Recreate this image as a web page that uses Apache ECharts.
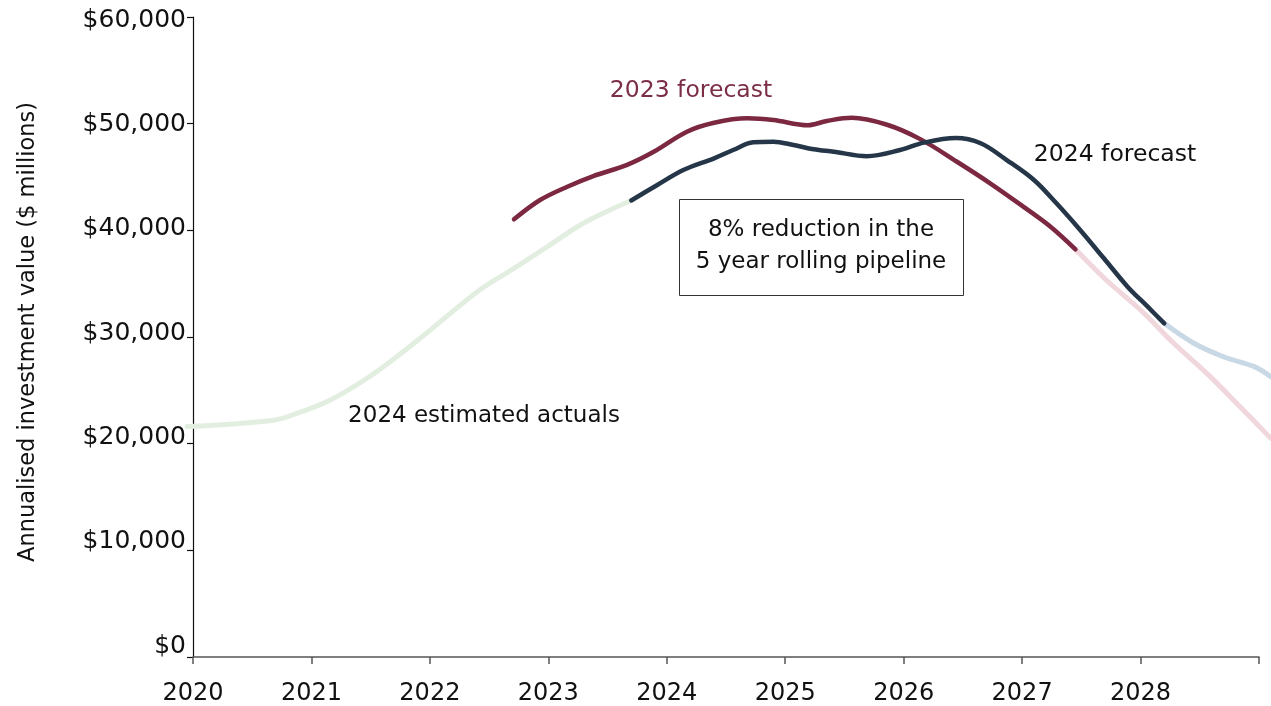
<!DOCTYPE html>
<html>
<head>
<meta charset="utf-8">
<style>
    html, body { margin: 0; padding: 0; background: #fff; }
    #chart { width: 1271px; height: 706px; }
</style>
<script src="https://cdn.jsdelivr.net/npm/echarts@6/dist/echarts.min.js"></script>
</head>
<body>
<div id="chart"></div>
<script>
// values ([year, $ millions])
const actualYears = [2019.95, 2020.68, 2020.88, 2021.16, 2021.47, 2021.72, 2021.97, 2022.42, 2022.71, 2022.99, 2023.27, 2023.49, 2023.70];
const actualValues = [21600, 22200, 22850, 24100, 26130, 28150, 30350, 34400, 36440, 38460, 40500, 41750, 42800];

const f2023Years = [2022.71, 2022.93, 2023.16, 2023.38, 2023.66, 2023.89, 2024.17, 2024.40, 2024.68, 2024.90, 2025.19, 2025.35, 2025.56, 2025.86, 2026.14, 2026.45, 2026.73, 2027.01, 2027.24, 2027.45];
const f2023Values = [41030, 42840, 44090, 45090, 46120, 47370, 49250, 50090, 50500, 50340, 49850, 50250, 50550, 49900, 48550, 46430, 44410, 42220, 40340, 38220];
const f2023TailYears = [2027.45, 2027.71, 2028.00, 2028.28, 2028.56, 2028.84, 2029.10];
const f2023TailValues = [38220, 35340, 32530, 29410, 26590, 23460, 20500];

const f2024Years = [2023.70, 2023.92, 2024.14, 2024.40, 2024.56, 2024.73, 2024.90, 2025.07, 2025.24, 2025.41, 2025.69, 2025.97, 2026.17, 2026.44, 2026.65, 2026.87, 2027.10, 2027.29, 2027.49, 2027.69, 2027.89, 2028.06, 2028.20];
const f2024Values = [42800, 44250, 45650, 46750, 47530, 48250, 48310, 48000, 47600, 47370, 46950, 47530, 48220, 48650, 48160, 46590, 44720, 42530, 40030, 37380, 34720, 32840, 31280];
const f2024TailYears = [2028.20, 2028.45, 2028.70, 2028.96, 2029.10];
const f2024TailValues = [31280, 29410, 28150, 27220, 26280];

const yTicks = [0, 10000, 20000, 30000, 40000, 50000, 60000];

function pairs(xs, ys) {
    return xs.map((x, i) => [x, ys[i]]);
}

const FONT = '"DejaVu Sans"';
const YEAR_PX = 118.44;  // one year on the x axis

(function () {
    let myChart = echarts.init(document.getElementById('chart'));

    // lines live on a second, hidden grid that runs a little past the axes
    function line(name, xs, ys, color, width, z) {
        return {
            name: name,
            type: 'line',
            xAxisIndex: 1,
            yAxisIndex: 2,
            data: pairs(xs, ys),
            smooth: 0.35,
            showSymbol: false,
            z: z,
            silent: true,
            lineStyle: { color: color, width: width, cap: 'round', join: 'round' }
        };
    }

    let option = {
        animation: false,
        grid: [
            { left: 193, right: 12, top: 17, bottom: 49 },
            { left: 193 - 0.1 * YEAR_PX, right: 12 - 0.1 * YEAR_PX, top: 17, bottom: 49 }
        ],
        xAxis: [
            {
                type: 'value',
                gridIndex: 0,
                min: 2020,
                max: 2029,
                interval: 1,
                axisLine: { lineStyle: { color: '#555', width: 1.5 } },
                axisTick: { length: 7, lineStyle: { color: '#555', width: 1.5 } },
                splitLine: { show: false },
                axisLabel: {
                    color: '#111',
                    fontFamily: FONT,
                    fontSize: 24,
                    margin: 25,
                    formatter: v => v === 2029 ? '' : String(v)
                }
            },
            {
                type: 'value',
                gridIndex: 1,
                min: 2019.9,
                max: 2029.1,
                show: false
            }
        ],
        yAxis: [
            {
                type: 'value',
                gridIndex: 0,
                min: 0,
                max: 60000,
                interval: 10000,
                axisLine: { show: true, lineStyle: { color: '#111', width: 1.2 } },
                axisTick: { show: true, length: 6, lineStyle: { color: '#111', width: 1.2 } },
                splitLine: { show: false },
                axisLabel: { show: false }
            },
            {
                // labels only, they sit a little off the ticks in the original
                type: 'value',
                gridIndex: 0,
                position: 'left',
                min: -1054,
                max: 60288,
                axisLine: { show: false },
                axisTick: { show: false },
                splitLine: { show: false },
                axisLabel: {
                    customValues: yTicks,
                    color: '#111',
                    fontFamily: FONT,
                    fontSize: 25,
                    margin: 7,
                    formatter: v => '$' + v.toLocaleString('en-US')
                }
            },
            {
                type: 'value',
                gridIndex: 1,
                min: 0,
                max: 60000,
                show: false
            }
        ],
        series: [
            line('2024 estimated actuals', actualYears, actualValues, '#e2efe0', 5, 2),
            line('2023 forecast tail', f2023TailYears, f2023TailValues, '#f0d7dc', 5, 2),
            line('2024 forecast tail', f2024TailYears, f2024TailValues, '#c8d8e5', 5, 2),
            line('2023 forecast', f2023Years, f2023Values, '#7b2840', 4.5, 3),
            line('2024 forecast', f2024Years, f2024Values, '#243648', 4.5, 4)
        ],
        graphic: [
            {
                type: 'text', x: 28, y: 332, rotation: Math.PI / 2,
                style: { text: 'Annualised investment value ($ millions)', fill: '#111', font: '22.5px ' + FONT, align: 'center', verticalAlign: 'middle' }
            },
            {
                type: 'text', x: 691, y: 91,
                style: { text: '2023 forecast', fill: '#7b2e45', font: '23.5px ' + FONT, align: 'center', verticalAlign: 'middle' }
            },
            {
                type: 'text', x: 1115, y: 155,
                style: { text: '2024 forecast', fill: '#111', font: '23.5px ' + FONT, align: 'center', verticalAlign: 'middle' }
            },
            {
                type: 'text', x: 484, y: 416,
                style: { text: '2024 estimated actuals', fill: '#111', font: '23px ' + FONT, align: 'center', verticalAlign: 'middle' }
            },
            {
                type: 'rect', shape: { x: 679.5, y: 199.5, width: 284, height: 96 },
                style: { fill: '#fff', stroke: '#333', lineWidth: 1 }, z: 10
            },
            {
                type: 'text', x: 821, y: 246, z: 11,
                style: { text: '8% reduction in the\n5 year rolling pipeline', fill: '#111', font: '23px ' + FONT, lineHeight: 32, align: 'center', verticalAlign: 'middle' }
            }
        ]
    };
    myChart.setOption(option);
})();
</script>
</body>
</html>
